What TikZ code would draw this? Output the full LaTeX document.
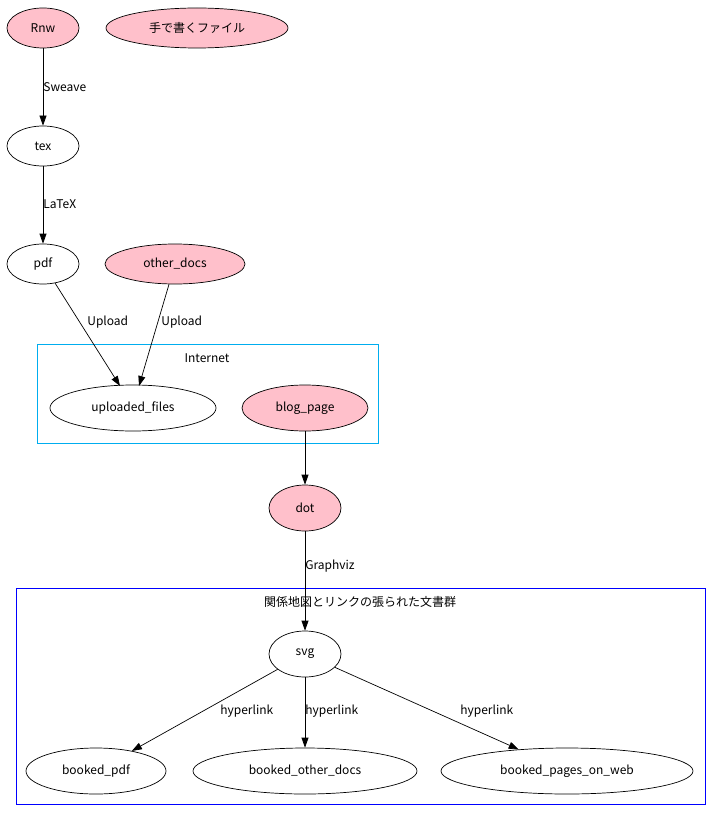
\documentclass[tikz,border=0pt]{standalone}
\usepackage{fontspec}
\setmainfont{Noto Sans CJK JP}
\usetikzlibrary{shapes.geometric,arrows.meta}
\definecolor{gvpink}{RGB}{255,192,203}
\begin{document}
\begin{tikzpicture}[x=1pt,y=-1pt,line width=0.7pt,
  every node/.style={font=\fontsize{12}{14}\selectfont},
  nd/.style={ellipse,draw,inner sep=0pt,minimum height=40pt},
  pk/.style={nd,fill=gvpink},
  lbl/.style={anchor=west,inner sep=0pt},
  ar/.style={-{Triangle[length=10pt,width=7pt]}}]
\useasboundingbox (0,0) rectangle (721,821);
\draw[cyan] (37,344) rectangle (378,443);
\node at (207,358) {Internet};
\draw[blue] (16,588) rectangle (705,804);
\node at (360,602) {関係地図とリンクの張られた文書群};
\node[pk,minimum width=72pt] (rnw) at (43,28) {Rnw};
\node[pk,minimum width=182pt] (hand) at (197,28) {手で書くファイル};
\node[nd,minimum width=72pt] (tex) at (43,146) {tex};
\node[nd,minimum width=72pt] (pdf) at (43,264) {pdf};
\node[pk,minimum width=140pt] (od) at (175,264) {other\_docs};
\node[nd,minimum width=166pt,minimum height=46pt] (uf) at (133,408) {uploaded\_files};
\node[pk,minimum width=126pt,minimum height=46pt] (bp) at (305,408) {blog\_page};
\node[pk,minimum width=72pt,minimum height=46pt] (dot) at (305,508) {dot};
\node[nd,minimum width=72pt,minimum height=46pt] (svg) at (305,654) {svg};
\node[nd,minimum width=140pt,minimum height=46pt] (bpdf) at (96,771) {booked\_pdf};
\node[nd,minimum width=224pt,minimum height=46pt] (bod) at (305,771) {booked\_other\_docs};
\node[nd,minimum width=252pt,minimum height=46pt] (bpw) at (567,771) {booked\_pages\_on\_web};
\coordinate (ufa) at (120,386);
\coordinate (ufb) at (139,386);
\draw[ar] (rnw) -- (tex);
\node[lbl] at (43,87) {Sweave};
\draw[ar] (tex) -- (pdf);
\node[lbl] at (43,204) {LaTeX};
\draw[ar] (pdf) -- (ufa);
\draw[ar] (od) -- (ufb);
\node[lbl] at (87,322) {Upload};
\node[lbl] at (161,322) {Upload};
\draw[ar] (bp) -- (dot);
\draw[ar] (dot) -- (svg);
\node[lbl] at (305,566) {Graphviz};
\draw[ar] (svg) -- (bpdf);
\draw[ar] (svg) -- (bod);
\draw[ar] (svg) -- (bpw);
\node[lbl] at (220,711) {hyperlink};
\node[lbl] at (305,711) {hyperlink};
\node[lbl] at (460,711) {hyperlink};
\end{tikzpicture}
\end{document}
